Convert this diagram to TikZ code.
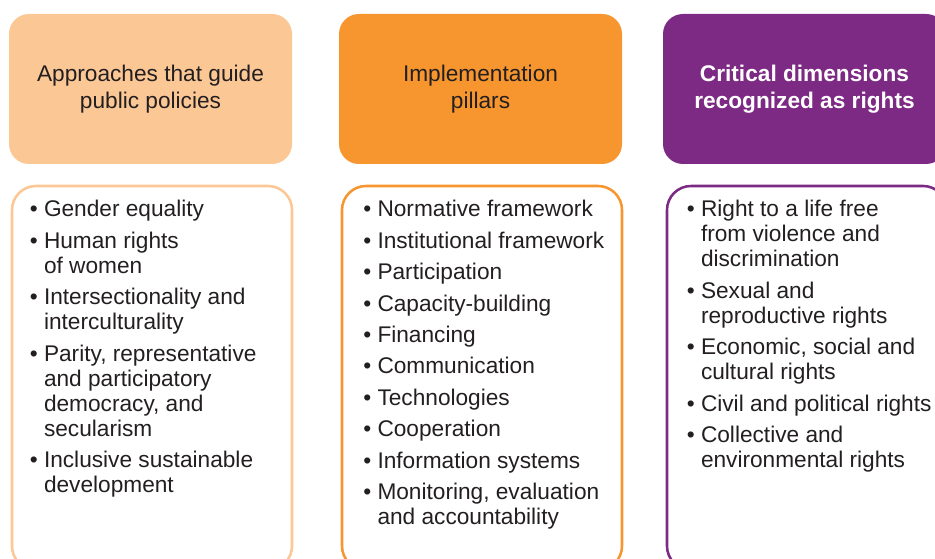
\documentclass[tikz,border=0pt]{standalone}
\usepackage{fontspec}
\setmainfont{Liberation Sans}
\usepackage{enumitem}

\definecolor{peach}{HTML}{FBC795}
\definecolor{pillar}{HTML}{F7962F}
\definecolor{plum}{HTML}{7D2A84}
\definecolor{ink}{HTML}{231F20}

\newcommand{\pointlist}[1]{%
  \begin{minipage}[t]{187.5pt}\raggedright
  \begin{itemize}[label=\textbullet, leftmargin=*, labelsep=0.278em,
      itemsep=4.8pt, parsep=0pt, topsep=0pt, partopsep=0pt]
  #1
  \end{itemize}
  \end{minipage}}

\begin{document}
\begin{tikzpicture}[x=0.75pt, y=-0.75pt,
        head/.style={rounded corners=15pt, minimum width=212.25pt, minimum height=112.5pt,
            align=center, text=ink, font=\fontsize{17}{20.25}\selectfont},
        frame/.style={draw, line width=1.9pt, rounded corners=18pt,
            minimum width=210pt, minimum height=288pt},
        items/.style={inner sep=0pt, anchor=base west, text=ink,
            font=\fontsize{17}{18.75}\selectfont}
    ]
        \useasboundingbox (0,0) rectangle (935,559);
        \clip (0,0) rectangle (935,559);

        % Header row
        \node[head, fill=peach] (approach) at (150.5,89) {Approaches that guide\\public policies};
        \node[head, fill=pillar] (pillars) at (480.5,89) {Implementation\\pillars};
        \node[head, fill=plum, text=white, font=\fontsize{17}{20.25}\selectfont\bfseries]
            (rights) at (804.5,89) {Critical dimensions\\recognized as rights};

        % Frames below
        \node[frame, draw=peach] (approachbox) at (152,378) {};
        \node[frame, draw=pillar] (pillarsbox) at (482,378) {};
        \node[frame, draw=plum] (rightsbox) at (807,378) {};

        % Lists
        \node[items] (approachlist) at (29.5,217) {\pointlist{
            \item Gender equality
            \item Human rights\\of women
            \item Intersectionality and\\interculturality
            \item Parity, representative\\and participatory\\democracy, and\\secularism
            \item Inclusive sustainable\\development}};
        \node[items] (pillarslist) at (363,217) {\pointlist{
            \item Normative framework
            \item Institutional framework
            \item Participation
            \item Capacity-building
            \item Financing
            \item Communication
            \item Technologies
            \item Cooperation
            \item Information systems
            \item Monitoring, evaluation\\and accountability}};
        \node[items] (rightslist) at (686.5,217) {\pointlist{
            \item Right to a life free\\from violence and\\discrimination
            \item Sexual and\\reproductive rights
            \item Economic, social and\\cultural rights
            \item Civil and political rights
            \item Collective and\\environmental rights}};
    \end{tikzpicture}
\end{document}
